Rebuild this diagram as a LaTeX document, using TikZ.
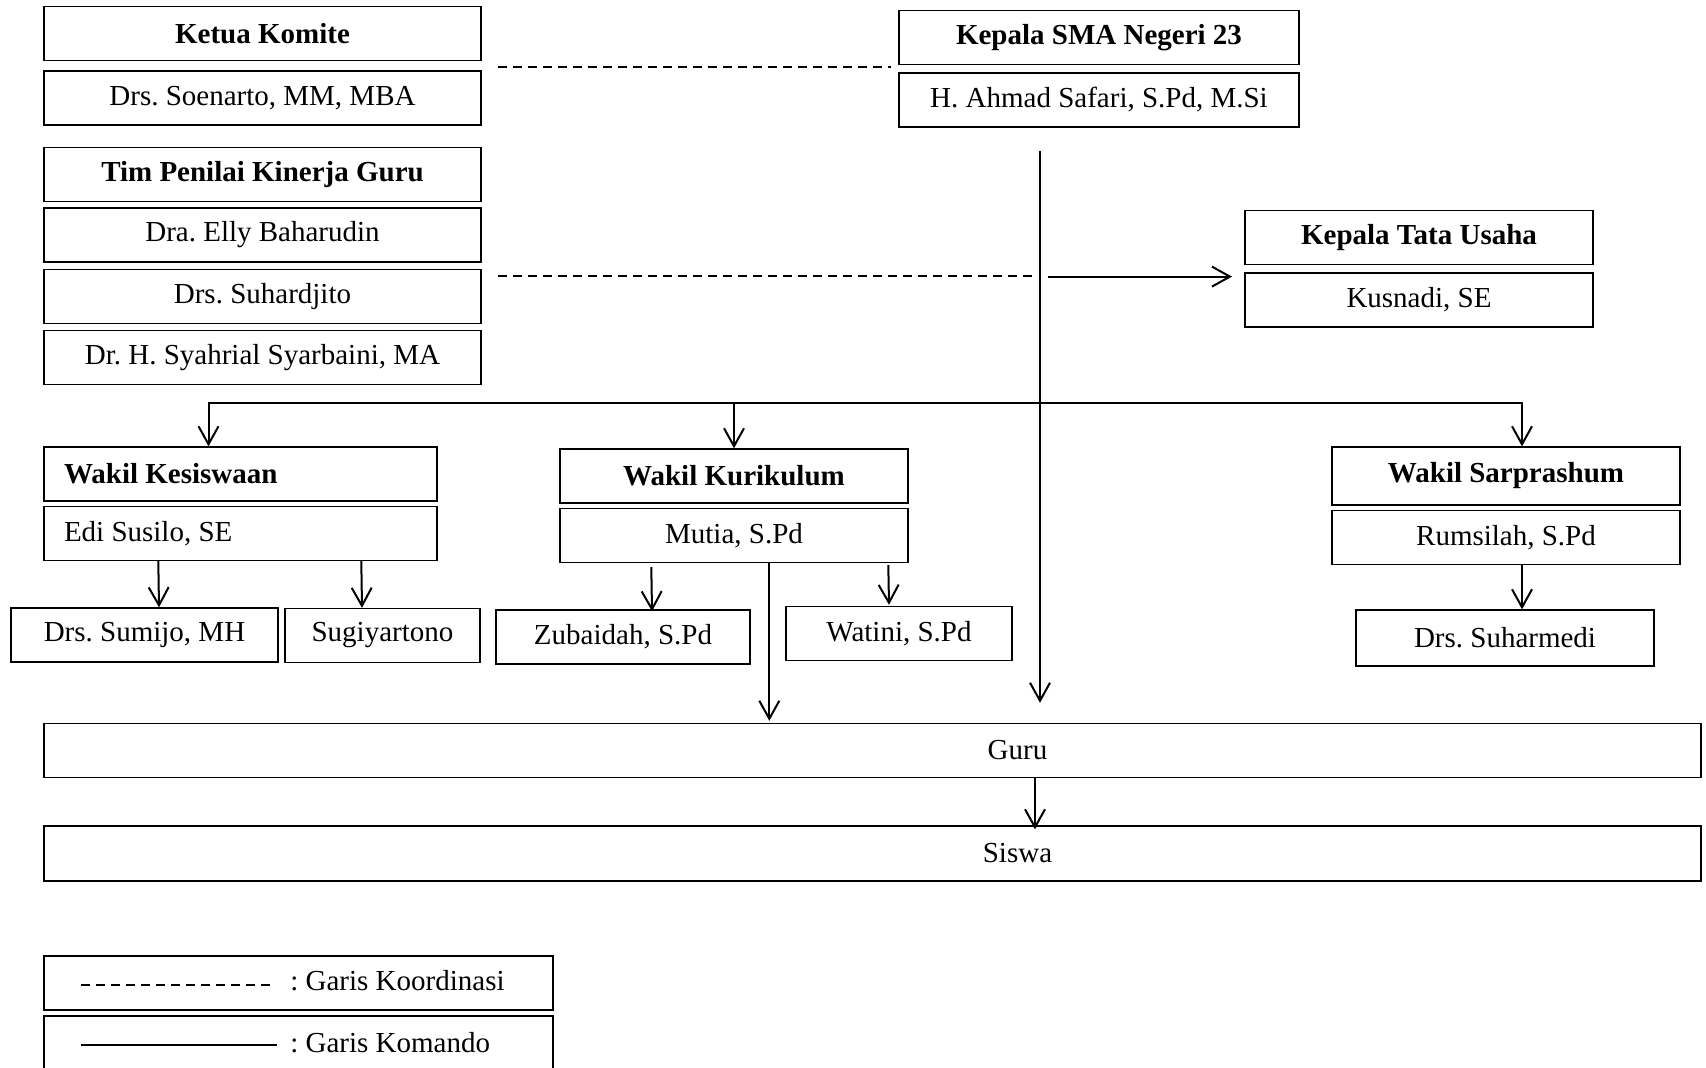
\documentclass[tikz,border=0pt]{standalone}
\usepackage{fontspec}
\setmainfont{Liberation Serif}
\usepackage{tikz}
\usetikzlibrary{arrows.meta, positioning, calc}
\frenchspacing

\begin{document}
\begin{tikzpicture}[
    x=0.5pt, y=-0.5pt,
    every node/.style={font=\fontsize{14.5}{17}\selectfont},
    unit/.style={rectangle, draw, line width=0.7pt, align=center, minimum height=27pt, inner sep=2pt},
    title/.style={unit, font=\fontsize{14.5}{17}\selectfont\bfseries},
    leftunit/.style={text width=176.5pt, inner xsep=10pt, align=flush left},
    arrow/.style={-{Straight Barb[length=9pt, width=10pt]}, line width=1pt},
    komando/.style={line width=1pt},
    koord/.style={line width=0.9pt, dash pattern=on 4.5pt off 3pt}
]
\useasboundingbox (0,0) rectangle (1706,1067);

% komite dan tim penilai
\node (ketua) [title, minimum width=218.5pt] at (262.5,33.5) {Ketua Komite};
\node (soenarto) [unit, minimum width=218.5pt, below=4.5pt of ketua] {Drs. Soenarto, MM, MBA};
\node (tim) [title, minimum width=218.5pt] at (262.5,174.5) {Tim Penilai Kinerja Guru};
\node (elly) [unit, minimum width=218.5pt, below=2.5pt of tim] {Dra. Elly Baharudin};
\node (suhardjito) [unit, minimum width=218.5pt, below=3pt of elly] {Drs. Suhardjito};
\node (syahrial) [unit, minimum width=218.5pt, below=3pt of suhardjito] {Dr. H. Syahrial Syarbaini, MA};

% kepala sekolah dan tata usaha
\node (kepala) [title, minimum width=200pt] at (1099,37.5) {Kepala SMA Negeri 23};
\node (ahmad) [unit, minimum width=200pt, below=3.5pt of kepala] {H. Ahmad Safari, S.Pd, M.Si};
\node (tatausaha) [title, minimum width=174pt] at (1419,237.5) {Kepala Tata Usaha};
\node (kusnadi) [unit, minimum width=174pt, below=3.5pt of tatausaha] {Kusnadi, SE};

% wakil kepala sekolah
\node (wkesiswaan) [title, leftunit] at (240.5,474) {Wakil Kesiswaan};
\node (edi) [unit, leftunit, below=2pt of wkesiswaan] {Edi Susilo, SE};
\node (wkurikulum) [title, minimum width=174pt] at (734,476) {Wakil Kurikulum};
\node (mutia) [unit, minimum width=174pt, below=2pt of wkurikulum] {Mutia, S.Pd};
\node (wsarpras) [title, minimum width=174pt, minimum height=29pt] at (1506,476) {Wakil Sarprashum};
\node (rumsilah) [unit, minimum width=174pt, below=2pt of wsarpras] {Rumsilah, S.Pd};

% staf
\node (sumijo) [unit, minimum width=133.5pt] at (144.5,635) {Drs. Sumijo, MH};
\node (sugiyartono) [unit, minimum width=97.5pt] at (382.5,635.5) {Sugiyartono};
\node (zubaidah) [unit, minimum width=127pt] at (623,637) {Zubaidah, S.Pd};
\node (watini) [unit, minimum width=113pt] at (899,633.5) {Watini, S.Pd};
\node (suharmedi) [unit, minimum width=149pt, minimum height=28pt] at (1505,638) {Drs. Suharmedi};

\node (guru) [unit, minimum width=828.5pt, label={[xshift=72.5pt]center:Guru}] at (872.5,750.5) {};
\node (siswa) [unit, minimum width=828.5pt, minimum height=27.5pt, label={[xshift=72.5pt]center:Siswa}] at (872.5,853.5) {};

% keterangan
\node (legkoord) [unit, minimum width=254.5pt] at (298.5,983) {};
\node (legkomando) [unit, minimum width=254.5pt] at (298.5,1043) {};
\node (legkoordtext) [anchor=west] at ($(legkoord.west)+(240,-2)$) {: Garis Koordinasi};
\node (legkomandotext) [anchor=west] at ($(legkomando.west)+(240,0)$) {: Garis Komando};

% garis koordinasi
\draw [koord] ($(ketua.south east)+(16,6)$) -- ++(393,0);
\draw [koord] ($(suhardjito.north east)+(16,7)$) -- ++(539,0);
\draw [koord] ($(legkoord.west)+(38,2)$) -- ++(190,0);
\draw [komando] ($(legkomando.west)+(38,2)$) -- ++(196,0);

% garis komando
\coordinate (spine) at ($(ahmad.south)+(-59,23)$);
\coordinate (bus) at ($(spine)+(0,252)$);
\draw [arrow] (spine) -- ($(spine |- guru.north)+(0,-20)$);
\draw [arrow] ($(spine)+(8,126)$) -- ($(spine)+(192,126)$);
\draw [arrow] (bus) -| ($(wkesiswaan.north)+(-32,0)$);
\draw [arrow] (bus) -| (wkurikulum.north);
\draw [arrow] (bus) -| ($(wsarpras.north)+(16,0)$);
\draw [arrow] ($(edi.south west)+(115,0)$) -- ($(sumijo.north)+(14.5,0)$);
\draw [arrow] ($(edi.south west)+(318,0)$) -- ($(sugiyartono.north)+(-20.5,0)$);
\draw [arrow] ($(mutia.south west)+(92,4)$) -- ($(zubaidah.north)+(29,2)$);
\draw [arrow] ($(mutia.south west)+(329,2)$) -- ($(watini.north)+(-10,-1)$);
\draw [arrow] ($(mutia.south west)+(210,0)$) -- ($(guru.north west)+(726,-2)$);
\draw [arrow] ($(rumsilah.south)+(16,0)$) -- ($(suharmedi.north)+(17,0)$);
\draw [arrow] ($(guru.south)+(162.5,0)$) -- ($(siswa.north)+(162.5,4)$);

\end{tikzpicture}
\end{document}
